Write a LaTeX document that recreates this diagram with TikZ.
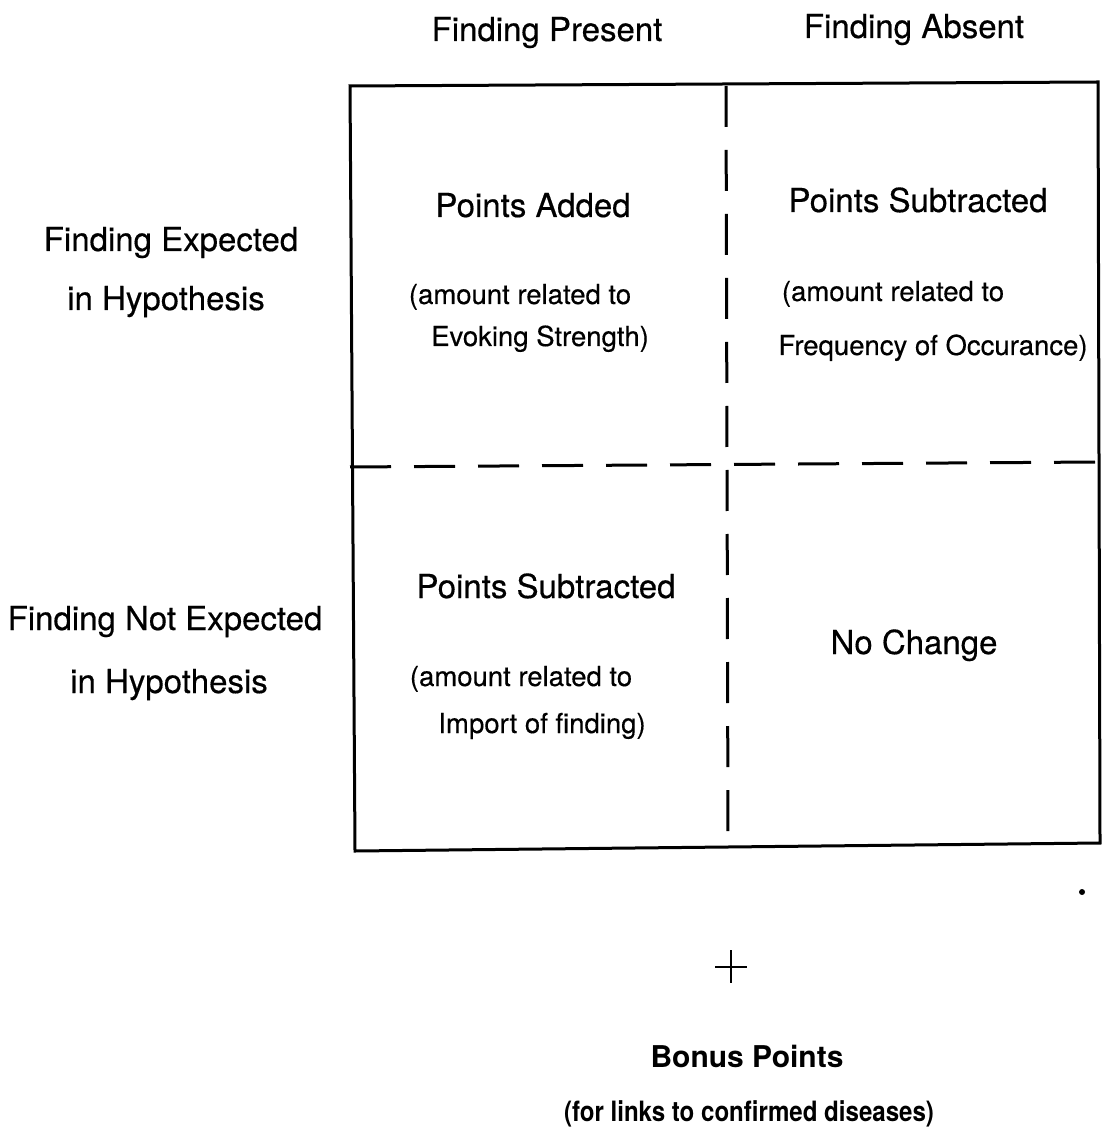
\documentclass[tikz,border=0pt]{standalone}
\usepackage{fontspec}
\setmainfont{TeX Gyre Heros}[UprightFeatures={FakeBold=0.4}]
\newfontfamily\notefont{TeX Gyre Heros}[FakeStretch=0.86]
\usetikzlibrary{positioning}

\begin{document}
\begin{tikzpicture}[x=0.5pt, y=-0.5pt,
    bigtext/.style={anchor=base, inner sep=0pt, font=\fontsize{16.5}{20}\selectfont},
    smalltext/.style={anchor=base, inner sep=0pt, font=\fontsize{13.75}{16}\selectfont},
    frameline/.style={line width=1.5pt},
    splitline/.style={line width=1.5pt, dash pattern=on 20.5pt off 11.5pt}]
        \useasboundingbox (0,0) rectangle (1102,1127);
        % Frame of the table
        \coordinate (tl) at (350,86);
        \coordinate (tr) at (1098,82);
        \coordinate (br) at (1100,843);
        \coordinate (bl) at (355,851);
        \draw[frameline] (tl) -- (tr) -- (br) -- (bl) -- cycle;
        % Dashed split lines
        \coordinate (vtop) at (726,86);
        \coordinate (vbot) at (728,838);
        \coordinate (hleft) at (350,467);
        \coordinate (hright) at (1098,462);
        \draw[splitline] (vtop) -- (vbot);
        \draw[splitline] (hleft) -- (hright);
        % Column heads
        \node[bigtext] (present) at (547,41) {Finding Present};
        \node[bigtext] (absent) at (914,38) {Finding Absent};
        % Row heads
        \node[bigtext] (expected) at (171,251) {Finding Expected};
        \node[bigtext] (expectedhyp) at (166,310) {in Hypothesis};
        \node[bigtext] (notexpected) at (165,630) {Finding Not Expected};
        \node[bigtext] (notexpectedhyp) at (169,693) {in Hypothesis};
        % Upper left cell
        \node[bigtext] (added) at (533,217) {Points Added};
        \node[smalltext] (addednote) at (520,304) {(amount related to};
        \node[smalltext] (addednotetwo) at (540,346) {Evoking Strength)};
        % Upper right cell
        \node[bigtext] (subtracted) at (918,212) {Points Subtracted};
        \node[smalltext] (subtractednote) at (893,301) {(amount related to};
        \node[smalltext] (subtractednotetwo) at (933,355) {Frequency of Occurance)};
        % Lower left cell
        \node[bigtext] (lowsubtracted) at (546,598) {Points Subtracted};
        \node[smalltext] (lownote) at (521,686) {(amount related to};
        \node[smalltext] (lownotetwo) at (542,733) {Import of finding)};
        % Lower right cell
        \node[bigtext] (nochange) at (914,654) {No Change};
        % Plus sign
        \draw[line width=1pt] (715,967) -- (747,967);
        \draw[line width=1pt] (731,950) -- (731,983);
        % Bonus
        \node[anchor=base, inner sep=0pt, font=\fontsize{15}{18}\selectfont\bfseries] (bonus) at (747,1067) {Bonus Points};
        \node[anchor=base, inner sep=0pt, font=\notefont\fontsize{14}{16}\selectfont\bfseries] (bonusnote) at (749,1121) {(for links to confirmed diseases)};
        % Speck
        \fill (1082,892) circle (1.5pt);
    \end{tikzpicture}
\end{document}
